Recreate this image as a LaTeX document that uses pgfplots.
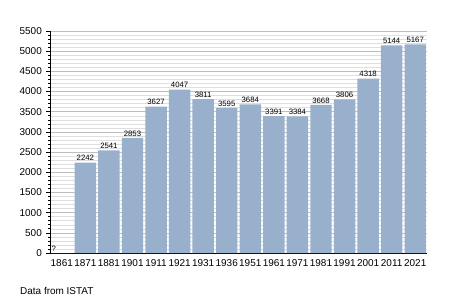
\documentclass[border=0pt]{standalone}
\usepackage{pgfplots}
\pgfplotsset{compat=1.18}
\usepackage{fontspec}
\setmainfont{Liberation Sans}
\definecolor{barblue}{RGB}{152,176,204}
\definecolor{gridmaj}{RGB}{190,190,190}
\definecolor{gridmin}{RGB}{222,222,222}
\begin{document}
\begin{tikzpicture}[x=1bp,y=1bp]
\path[use as bounding box] (0,0) rectangle (455,303);
\begin{axis}[
  at={(50bp,50bp)}, anchor=south west,
  scale only axis, width=377bp, height=222bp,
  xmin=-0.5, xmax=15.5, ymin=0, ymax=5500,
  ybar, bar width=0.91, bar shift=0pt,
  xtick={0,...,15},
  xticklabels={1861,1871,1881,1901,1911,1921,1931,1936,1951,1961,1971,1981,1991,2001,2011,2021},
  ytick distance=500, minor y tick num=4,
  ymajorgrids, yminorgrids,
  major grid style={gridmaj, line width=0.6pt},
  minor grid style={gridmin, line width=0.5pt},
  axis x line*=bottom, axis y line*=left,
  axis line style={-, black, line width=0.8pt},
  x tick style={draw=none},
  y tick style={black, line width=0.6pt},
  tick align=outside,
  major tick length=4bp, minor tick length=2bp,
  tick label style={font=\fontsize{10}{12}\selectfont},
  xticklabel style={inner sep=1pt, yshift=-1bp},
  yticklabel style={inner sep=2pt, xshift=-2bp},
  /pgf/number format/assume math mode=true,
  /pgf/number format/1000 sep={},
  point meta=explicit symbolic,
  nodes near coords,
  nodes near coords style={font=\fontsize{7.8}{9}\selectfont, inner sep=1.5pt, black},
  clip=false,
]
\addplot[fill=barblue, draw=none] coordinates {
  (1,2242) [2242]
  (2,2541) [2541]
  (3,2853) [2853]
  (4,3627) [3627]
  (5,4047) [4047]
  (6,3811) [3811]
  (7,3595) [3595]
  (8,3684) [3684]
  (9,3391) [3391]
  (10,3384) [3384]
  (11,3668) [3668]
  (12,3806) [3806]
  (13,4318) [4318]
  (14,5144) [5144]
  (15,5167) [5167]
};
\addplot[fill=barblue, draw=none, nodes near coords style={xshift=-8bp}] coordinates {
  (0,0) [?]
};
\end{axis}
\node[anchor=base west, inner sep=0pt, font=\fontsize{10}{12}\selectfont] at (20bp,9bp) {Data from ISTAT};
\end{tikzpicture}
\end{document}
